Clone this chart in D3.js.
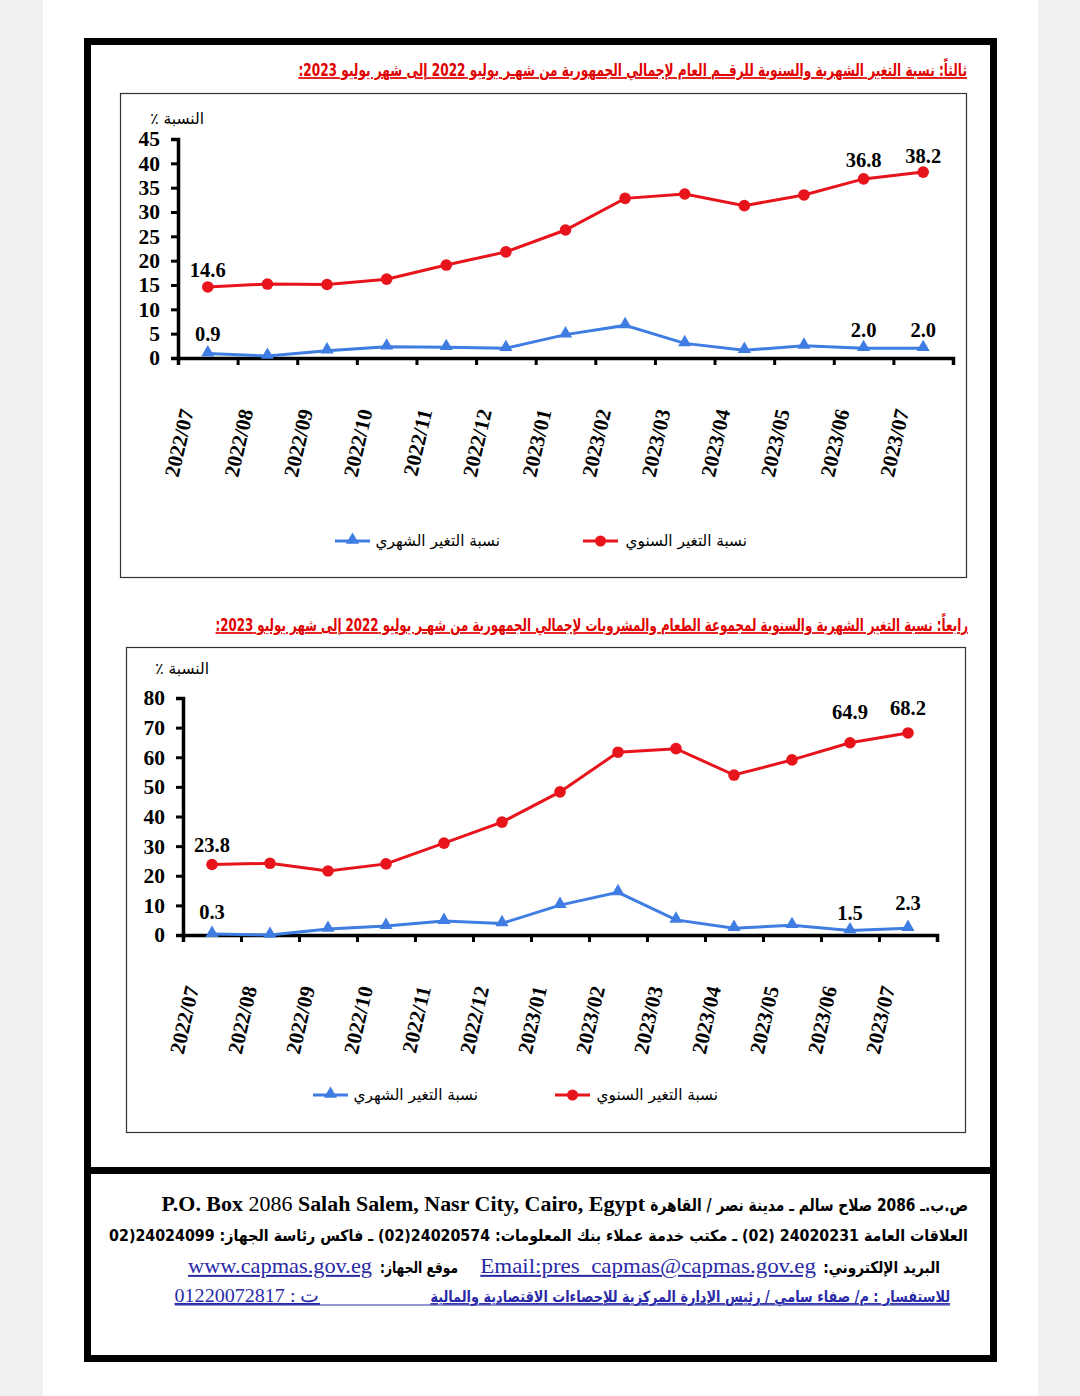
<!DOCTYPE html>
<html><head><meta charset="utf-8">
<script src="https://cdn.jsdelivr.net/npm/d3@7"></script>
<style>body{margin:0;background:#f1f1f1;overflow:hidden}</style>
</head><body><svg id="c" width="1080" height="1396"></svg>
<script>
// ---------- data ----------
const months = ["2022/07","2022/08","2022/09","2022/10","2022/11","2022/12","2023/01","2023/02","2023/03","2023/04","2023/05","2023/06","2023/07"];
const annualGeneral  = [14.6,15.2,15.1,16.2,19.1,21.8,26.3,32.8,33.7,31.3,33.5,36.8,38.2];
const monthlyGeneral = [0.9,0.4,1.5,2.3,2.2,2.0,4.8,6.7,3.0,1.6,2.5,2.0,2.0];
const annualFood  = [23.8,24.2,21.6,24.0,31.0,38.1,48.3,61.7,62.9,54.0,59.1,64.9,68.2];
const monthlyFood = [0.3,0.0,2.0,3.0,4.7,3.9,10.1,14.4,5.1,2.3,3.3,1.5,2.3];
const ticksGeneral = [0,5,10,15,20,25,30,35,40,45];
const ticksFood = [0,10,20,30,40,50,60,70,80];
const labeledIdx = [0,11,12];
const seriesAnnual = "نسبة التغير السنوي";
const seriesMonthly = "نسبة التغير الشهري";
const yTitle = "النسبة ٪";
const title1 = "ثالثاً: نسبة التغير الشهرية والسنوية للرقــم العام لإجمالي الجمهورية من شهـر يوليو 2022 إلى شهر يوليو 2023:";
const title2 = "رابعاً: نسبة التغير الشهرية والسنوية لمجموعة الطعام والمشروبات لإجمالي الجمهورية من شهـر يوليو 2022 إلى شهر يوليو 2023:";

// ---------- layout ----------
const RED = "#e8141c", BLUE = "#3f7de3", TITLE_RED = "#e00000", LINK = "#2a2aa8";
const SERIF = "'Liberation Serif','Times New Roman',serif";
const AR = "'DejaVu Sans',sans-serif";
const RLM = "\u200F";

const svg = d3.select("#c");
svg.append("rect").attr("x",0).attr("y",0).attr("width",1080).attr("height",1396).attr("fill","#f1f1f1");
svg.append("rect").attr("x",43).attr("y",0).attr("width",995).attr("height",1396).attr("fill","#fff");
svg.append("rect").attr("x",87.5).attr("y",41.5).attr("width",906).attr("height",1317)
  .attr("fill","none").attr("stroke","#000").attr("stroke-width",7);
svg.append("line").attr("x1",84).attr("x2",997).attr("y1",1170.5).attr("y2",1170.5)
  .attr("stroke","#000").attr("stroke-width",7);

// squeeze a right-anchored text horizontally so that it spans exactly w pixels
function fit(t, w){
  const n = t.node().getComputedTextLength();
  const x = +t.attr("x"), y = +t.attr("y");
  t.attr("x",0).attr("y",0).attr("transform",`translate(${x},${y}) scale(${w/n},1)`);
  return t;
}

const charts = [
  {title:title1, titleY:76, titleRight:967, titleLen:669, annual:annualGeneral, monthly:monthlyGeneral, ticks:ticksGeneral,
   box:[120.5,93.5,846,484], x0:178, x1:953, yTop:139, yBase:358, yTitleX:204, yTitleY:124,
   annDy:[17,19,16], monDy:[20,18,18], lblX:-14, lblY:53,
   legY:541, legRed:[583,618,747], legBlue:[335,370,500]},
  {title:title2, titleY:631, titleRight:968, titleLen:753, annual:annualFood, monthly:monthlyFood, ticks:ticksFood,
   box:[126.5,647.5,839,485], x0:183, x1:937, yTop:698, yBase:935, yTitleX:209, yTitleY:674,
   annDy:[19,31,25], monDy:[22,18,25], lblX:-13, lblY:53,
   legY:1095, legRed:[555,590,718], legBlue:[313,348,478]}
];

function drawChart(c){
  const tt = svg.append("text").attr("x",c.titleRight).attr("y",c.titleY).attr("text-anchor","end")
    .attr("font-family",AR).attr("font-weight","bold").attr("font-size",17).attr("fill",TITLE_RED)
    .attr("text-decoration","underline").text(RLM + c.title + RLM);
  fit(tt, c.titleLen);
  svg.append("rect").attr("x",c.box[0]).attr("y",c.box[1]).attr("width",c.box[2]).attr("height",c.box[3])
    .attr("fill","none").attr("stroke","#333").attr("stroke-width",1.2);

  const x = d3.scaleBand().domain(months).range([c.x0,c.x1]);
  const xEdge = d3.scaleLinear().domain([0,months.length]).range([c.x0,c.x1]);
  const y = d3.scaleLinear().domain([0,d3.max(c.ticks)]).range([c.yBase,c.yTop]);
  const g = svg.append("g");

  const ya = g.append("g").attr("transform",`translate(${c.x0},0)`)
    .call(d3.axisLeft(y).tickValues(c.ticks).tickSize(7).tickPadding(11).tickFormat(d3.format("d")));
  ya.select(".domain").attr("stroke","#000").attr("stroke-width",3.5);
  ya.selectAll(".tick line").attr("stroke","#000").attr("stroke-width",3);
  ya.selectAll(".tick text").attr("font-family",SERIF).attr("font-weight","bold").attr("font-size",21.5).attr("fill","#000");
  const xa = g.append("g").attr("transform",`translate(0,${c.yBase})`)
    .call(d3.axisBottom(xEdge).tickValues(d3.range(months.length+1)).tickSize(7).tickFormat(""));
  xa.select(".domain").attr("stroke","#000").attr("stroke-width",3.5);
  xa.selectAll(".tick line").attr("stroke","#000").attr("stroke-width",3);
  g.selectAll(".ml").data(months).join("text")
    .attr("transform",d=>`translate(${x(d)+x.bandwidth()/2+c.lblX},${c.yBase+c.lblY}) rotate(-77)`)
    .attr("text-anchor","end").attr("font-family",SERIF).attr("font-weight","bold").attr("font-size",21)
    .text(d=>d);

  g.append("text").attr("x",c.yTitleX).attr("y",c.yTitleY).attr("text-anchor","end")
    .attr("font-family",AR).attr("font-size",15.5).attr("fill","#000").text(RLM + yTitle + RLM);

  const cx = (d,i)=>x(months[i])+x.bandwidth()/2;
  const line = d3.line().x((d,i)=>cx(d,i)).y(d=>y(d));
  g.append("path").attr("d",line(c.monthly)).attr("fill","none").attr("stroke",BLUE).attr("stroke-width",3);
  const tri = d3.symbol().type(d3.symbolTriangle).size(75);
  g.selectAll(".tri").data(c.monthly).join("path").attr("d",tri)
    .attr("transform",(d,i)=>`translate(${cx(d,i)},${y(d)-1})`).attr("fill",BLUE);
  g.append("path").attr("d",line(c.annual)).attr("fill","none").attr("stroke",RED).attr("stroke-width",3);
  g.selectAll(".dot").data(c.annual).join("circle")
    .attr("cx",(d,i)=>cx(d,i)).attr("cy",d=>y(d)).attr("r",5.8).attr("fill",RED);

  const fmt = d3.format(".1f");
  labeledIdx.forEach((idx,k)=>{
    g.append("text").attr("x",cx(0,idx)).attr("y",y(c.annual[idx])-c.annDy[k]+7).attr("text-anchor","middle")
      .attr("font-family",SERIF).attr("font-weight","bold").attr("font-size",20.5).text(fmt(c.annual[idx]));
    g.append("text").attr("x",cx(0,idx)).attr("y",y(c.monthly[idx])-c.monDy[k]+7).attr("text-anchor","middle")
      .attr("font-family",SERIF).attr("font-weight","bold").attr("font-size",20.5).text(fmt(c.monthly[idx]));
  });

  const L = c.legY;
  g.append("line").attr("x1",c.legRed[0]).attr("x2",c.legRed[1]).attr("y1",L).attr("y2",L).attr("stroke",RED).attr("stroke-width",3);
  g.append("circle").attr("cx",(c.legRed[0]+c.legRed[1])/2).attr("cy",L).attr("r",5.5).attr("fill",RED);
  g.append("text").attr("x",c.legRed[2]).attr("y",L+5).attr("text-anchor","end")
    .attr("font-family",AR).attr("font-size",15.3).text(seriesAnnual);
  g.append("line").attr("x1",c.legBlue[0]).attr("x2",c.legBlue[1]).attr("y1",L).attr("y2",L).attr("stroke",BLUE).attr("stroke-width",3);
  g.append("path").attr("d",tri).attr("transform",`translate(${(c.legBlue[0]+c.legBlue[1])/2},${L-1})`).attr("fill",BLUE);
  g.append("text").attr("x",c.legBlue[2]).attr("y",L+5).attr("text-anchor","end")
    .attr("font-family",AR).attr("font-size",15.3).text(seriesMonthly);
}
charts.forEach(drawChart);

// ---------- footer ----------
const f = svg.append("g");
function ftxt(x,y,txt,opt){
  const t = f.append("text").attr("x",x).attr("y",y).attr("text-anchor",opt.anchor||"end")
    .attr("font-family",opt.family||AR).attr("font-size",opt.size||15)
    .attr("font-weight",opt.weight||"bold").attr("fill",opt.fill||"#000").text(txt);
  if(opt.underline) t.attr("text-decoration","underline");
  if(opt.len) fit(t, opt.len);
  return t;
}
// line 1
ftxt(968,1211,RLM+"ص.ب.ـ 2086 صلاح سالم ـ مدينة نصر / القاهرة"+RLM,{size:17,len:318});
const po = f.append("text").attr("x",645).attr("y",1211).attr("text-anchor","end")
  .attr("font-family",SERIF).attr("font-size",20).attr("font-weight","bold");
po.append("tspan").text("P.O. Box ");
po.append("tspan").attr("font-weight","normal").text("2086");
po.append("tspan").text(" Salah Salem, Nasr City, Cairo, Egypt");
fit(po, 484);
// line 2 (left end cut by the page frame, as in the source)
f.append("clipPath").attr("id","clip2").append("rect").attr("x",108).attr("y",1215).attr("width",870).attr("height",40);
const l2 = f.append("g").attr("clip-path","url(#clip2)").append("text").attr("x",968).attr("y",1241).attr("text-anchor","end")
  .attr("font-family",AR).attr("font-size",15.5).attr("font-weight","bold")
  .text(RLM+"العلاقات العامة  24020231 (02) ـ مكتب خدمة عملاء بنك المعلومات: 24020574(02) ـ فاكس رئاسة الجهاز: 24024099(02)"+RLM);
fit(l2, 866);
// line 3
ftxt(940,1273,RLM+"البريد الإلكتروني:"+RLM,{size:16,len:117});
ftxt(816,1273,"Email:pres_capmas@capmas.gov.eg",{family:SERIF,size:20,weight:"normal",fill:LINK,underline:true,len:336});
ftxt(458,1273,RLM+"موقع الجهاز:"+RLM,{size:16,len:78});
ftxt(372,1273,"www.capmas.gov.eg",{family:SERIF,size:20,weight:"normal",fill:LINK,underline:true,len:184});
// line 4
ftxt(950,1302,RLM+"للاستفسار : م/ صفاء سامي / رئيس الإدارة المركزية للإحصاءات الاقتصادية والمالية"+RLM,{size:15.5,fill:LINK,underline:true,len:520});
ftxt(320,1302,RLM+"ت : 01220072817"+RLM,{family:SERIF,size:19,weight:"normal",fill:LINK,underline:true,len:145});
f.append("line").attr("x1",175).attr("x2",950).attr("y1",1305).attr("y2",1305).attr("stroke",LINK).attr("stroke-width",1);
</script></body></html>
